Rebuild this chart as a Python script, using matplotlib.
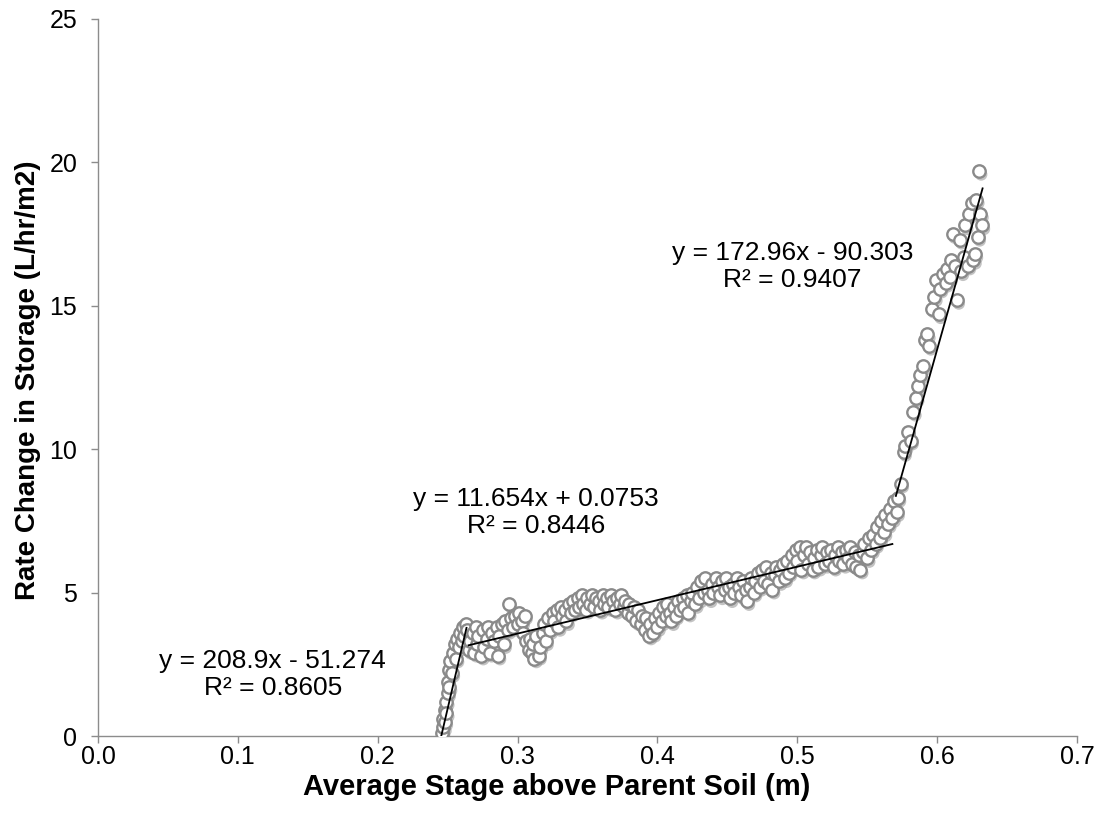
import numpy as np
import matplotlib
matplotlib.use('Agg')
import matplotlib.pyplot as plt
import matplotlib.transforms as mtransforms

plt.rcParams['font.family'] = ['Liberation Sans', 'DejaVu Sans']

# Measured points: average stage (m) vs rate change in storage (L/hr/m2)
stage = [0.246, 0.247, 0.247, 0.248, 0.248, 0.249, 0.249, 0.250, 0.250, 0.251,
         0.251, 0.252, 0.253, 0.254, 0.255, 0.256, 0.257, 0.258, 0.259, 0.260,
         0.261, 0.262, 0.263, 0.264,
         0.265, 0.266, 0.268, 0.269, 0.270, 0.271, 0.272, 0.274, 0.275, 0.276,
         0.278, 0.279, 0.280, 0.282, 0.283, 0.285, 0.286, 0.287, 0.289, 0.290,
         0.291, 0.293, 0.294, 0.295, 0.297, 0.298, 0.300, 0.301, 0.303, 0.304,
         0.305, 0.306, 0.308, 0.309, 0.310, 0.311, 0.312, 0.313, 0.315, 0.316,
         0.318, 0.319, 0.320, 0.322, 0.323, 0.325, 0.326, 0.328, 0.329, 0.331,
         0.332, 0.334, 0.335, 0.337, 0.338, 0.340, 0.341, 0.343, 0.344, 0.346,
         0.347, 0.349, 0.350, 0.352, 0.353, 0.355, 0.356, 0.358, 0.359, 0.361,
         0.362, 0.364, 0.365, 0.367, 0.368, 0.370, 0.371, 0.373, 0.374, 0.376,
         0.377, 0.379, 0.380, 0.382, 0.383, 0.385, 0.386, 0.388, 0.389, 0.391,
         0.392, 0.394, 0.395, 0.397, 0.398, 0.400, 0.401, 0.403, 0.404, 0.406,
         0.407, 0.409, 0.410, 0.412, 0.413, 0.415, 0.416, 0.418, 0.419, 0.421,
         0.422, 0.424, 0.425, 0.427, 0.428, 0.430, 0.431, 0.433, 0.434, 0.436,
         0.437, 0.439, 0.440, 0.442, 0.443, 0.445, 0.446, 0.448, 0.449, 0.451,
         0.452, 0.454, 0.455, 0.457, 0.458, 0.460, 0.461, 0.463, 0.464, 0.466,
         0.467, 0.469, 0.470, 0.472, 0.473, 0.475, 0.476, 0.478, 0.479, 0.481,
         0.482, 0.484, 0.485, 0.487, 0.488, 0.490, 0.491, 0.493, 0.494, 0.496,
         0.497, 0.499, 0.500, 0.502, 0.503, 0.505, 0.506, 0.508, 0.509, 0.511,
         0.512, 0.514, 0.515, 0.517, 0.518, 0.520, 0.521, 0.523, 0.524, 0.526,
         0.527, 0.529, 0.530, 0.532, 0.533, 0.535, 0.536, 0.538, 0.539, 0.541,
         0.542, 0.544, 0.545, 0.547, 0.548, 0.550, 0.551, 0.553, 0.554, 0.556,
         0.557, 0.559, 0.560, 0.562, 0.563, 0.565, 0.566, 0.568, 0.569, 0.571,
         0.572,
         0.574, 0.576, 0.577, 0.579, 0.581, 0.583, 0.585, 0.586, 0.588, 0.590,
         0.591, 0.593, 0.594, 0.596, 0.598, 0.599, 0.601, 0.602, 0.604, 0.606,
         0.607, 0.609, 0.610, 0.611, 0.613, 0.614, 0.616, 0.617, 0.619, 0.620,
         0.622, 0.623, 0.625, 0.626, 0.627, 0.628, 0.629, 0.630, 0.631, 0.632]
rate = [0.1, 0.3, 0.6, 0.9, 0.5, 1.2, 0.8, 1.5, 1.9, 2.3,
        1.7, 2.6, 2.2, 2.9, 3.2, 2.7, 3.4, 3.1, 3.6, 3.3,
        3.8, 3.5, 3.9, 3.7,
        3.0, 3.3, 3.6, 2.9, 3.8, 3.2, 3.5, 2.8, 3.7, 3.1,
        3.4, 3.8, 2.9, 3.6, 3.3, 3.8, 2.8, 3.5, 3.9, 3.2,
        4.0, 3.7, 4.6, 4.1, 3.8, 4.2, 3.9, 4.3, 4.0, 3.6,
        4.2, 3.3, 3.0, 3.4, 2.9, 3.2, 2.7, 3.5, 2.8, 3.1,
        3.6, 3.9, 3.3, 4.1, 3.7, 4.3, 4.0, 4.4, 3.8, 4.5,
        4.2, 4.4, 4.0, 4.6, 4.3, 4.7, 4.4, 4.8, 4.5, 4.9,
        4.6, 4.4, 4.8, 4.6, 4.9, 4.5, 4.8, 4.7, 4.4, 4.9,
        4.6, 4.8, 4.5, 4.9, 4.7, 4.4, 4.8, 4.6, 4.9, 4.5,
        4.7, 4.3, 4.6, 4.2, 4.5, 4.0, 4.4, 3.9, 4.2, 3.7,
        4.1, 3.5, 3.9, 3.6, 4.1, 3.8, 4.3, 4.0, 4.5, 4.2,
        4.6, 4.3, 4.0, 4.5, 4.2, 4.7, 4.4, 4.8, 4.5, 4.9,
        4.3, 4.7, 5.0, 4.6, 5.2, 4.8, 5.4, 5.0, 5.5, 5.1,
        4.8, 5.3, 5.0, 5.5, 5.2, 4.9, 5.4, 5.1, 5.5, 5.2,
        4.8, 5.3, 5.0, 5.5, 5.2, 4.9, 5.4, 5.1, 4.7, 5.2,
        5.5, 5.0, 5.4, 5.7, 5.2, 5.8, 5.4, 5.9, 5.3, 5.7,
        5.1, 5.6, 5.9, 5.4, 5.8, 6.0, 5.5, 6.1, 5.7, 6.3,
        5.9, 6.5, 6.1, 6.6, 5.8, 6.3, 6.6, 6.0, 6.4, 5.8,
        6.2, 6.5, 5.9, 6.3, 6.6, 6.0, 6.4, 6.1, 6.5, 5.9,
        6.3, 6.6, 6.1, 6.4, 6.0, 6.5, 6.2, 6.6, 6.0, 6.4,
        5.9, 6.3, 5.8, 6.4, 6.7, 6.2, 6.9, 6.5, 7.0, 6.7,
        7.3, 6.9, 7.5, 7.1, 7.7, 7.4, 7.9, 7.6, 8.2, 7.8,
        8.3,
        8.8, 9.9, 10.1, 10.6, 10.3, 11.3, 11.8, 12.2, 12.6, 12.9,
        13.8, 14.0, 13.6, 14.9, 15.3, 15.9, 14.7, 15.6, 16.1, 15.8,
        16.3, 16.0, 16.6, 17.5, 16.4, 15.2, 17.3, 16.2, 16.7, 17.8,
        16.4, 18.2, 18.6, 16.6, 16.8, 18.7, 17.4, 19.7, 18.2, 17.8]

# Linear trendlines (slope, intercept, x range, label text)
fit_slope = [208.9, 11.654, 172.96]
fit_intercept = [-51.274, 0.0753, -90.303]
fit_xstart = [0.2455, 0.265, 0.5705]
fit_xend = [0.2635, 0.568, 0.6325]
fit_eq = ['y = 208.9x - 51.274', 'y = 11.654x + 0.0753', 'y = 172.96x - 90.303']
fit_r2 = ['R² = 0.8605', 'R² = 0.8446', 'R² = 0.9407']
label_x = [0.125, 0.313, 0.4964]
label_y = [2.14, 7.79, 16.37]

fig = plt.figure(figsize=(11.02, 8.22), dpi=100)
ax = fig.add_axes([0.0889, 0.1046, 0.8884, 0.8723])

# marker shadow
shadow = mtransforms.offset_copy(ax.transData, fig=fig, x=1.5, y=-2.5, units='points')
ax.scatter(stage, rate, s=80, facecolors='#7a7a7a', edgecolors='none',
           alpha=0.45, transform=shadow, zorder=2)
ax.scatter(stage, rate, s=80, facecolors='white', edgecolors='#8a8a8a',
           linewidths=1.7, zorder=3)

for i in range(3):
    xs = np.array([fit_xstart[i], fit_xend[i]])
    ys = fit_slope[i] * xs + fit_intercept[i]
    ax.plot(xs, ys, color='black', lw=1.3, zorder=4)
    ax.text(label_x[i], label_y[i], fit_eq[i] + '\n' + fit_r2[i],
            ha='center', va='center', fontsize=19, linespacing=1.18, zorder=5)

ax.set_xlim(0, 0.7)
ax.set_ylim(0, 25)
ax.set_xticks(np.arange(0, 0.71, 0.1))
ax.set_xticklabels(['0.0', '0.1', '0.2', '0.3', '0.4', '0.5', '0.6', '0.7'])
ax.set_yticks([0, 5, 10, 15, 20, 25])

for side in ['top', 'right']:
    ax.spines[side].set_visible(False)
for side in ['left', 'bottom']:
    ax.spines[side].set_color('#8c8c8c')
    ax.spines[side].set_linewidth(1.0)
ax.tick_params(axis='both', colors='#8c8c8c', labelcolor='black',
               labelsize=18, length=5, width=1.0, direction='out')
ax.tick_params(axis='x', pad=1.5)
ax.tick_params(axis='y', pad=10)

ax.set_xlabel('Average Stage above Parent Soil (m)', fontsize=21, fontweight='bold', va='center')
ax.set_ylabel('Rate Change in Storage (L/hr/m2)', fontsize=20, fontweight='bold', va='center')
ax.xaxis.set_label_coords(0.4689, -0.0711)
ax.yaxis.set_label_coords(-0.0715, 0.4965)

fig.savefig('out.png', dpi=100)
